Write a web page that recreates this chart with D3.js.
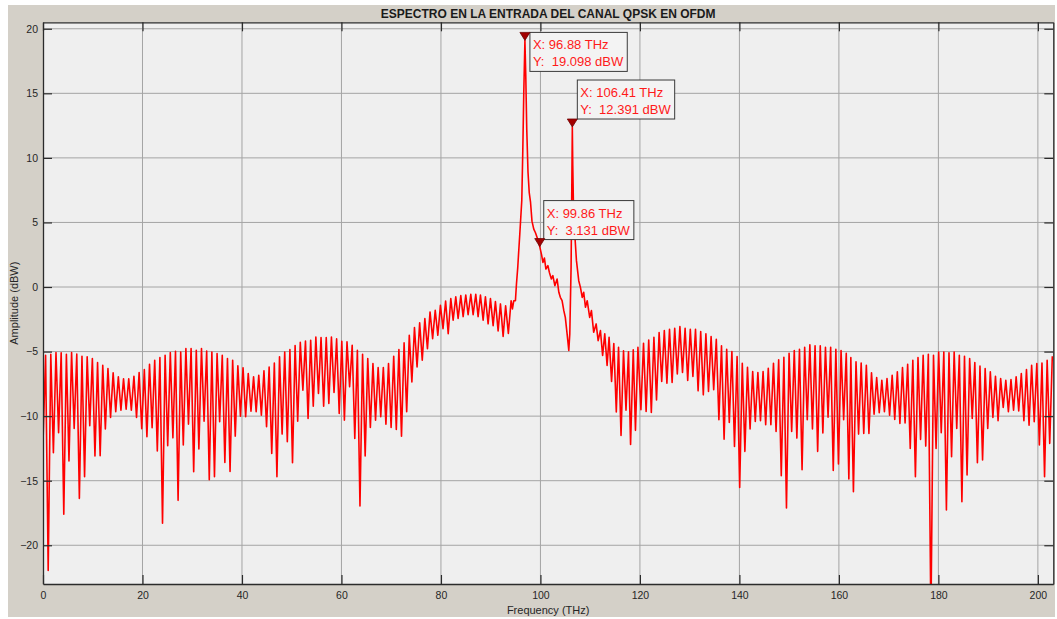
<!DOCTYPE html>
<html>
<head>
<meta charset="utf-8">
<script src="https://cdn.jsdelivr.net/npm/d3@7"></script>
<style>
  body { margin: 0; background: #fff; }
  svg text { font-family: "Liberation Sans", Arial, Helvetica, sans-serif; }
</style>
</head>
<body>
<div id="chart"></div>
<script>
// axis ticks
const xTicks = [0, 20, 40, 60, 80, 100, 120, 140, 160, 180, 200];
const yTicks = [-20, -15, -10, -5, 0, 5, 10, 15, 20];

// side lobes: alternating trough / peak levels (dBW),
// each run evenly spread between the frequencies given in lobeSpans (THz)
const lobeSpans = [[0, 41.26], [41.81, 81.98], [120.2, 162.0], [162.4, 202.9]];

const lobeA = [
  -12.1, -5.28, -21.96, -5.21, -12.84, -5.08, -11.29, -5.10, -17.6, -5.21,
  -13.48, -5.08, -10.95, -5.2, -16.37, -5.36, -14.69, -5.41, -10.75, -5.54,
  -13.09, -5.85, -13.07, -6.06, -11.0, -6.31, -10.1, -6.65, -9.66, -6.96,
  -9.54, -7.11, -9.46, -7.11, -9.54, -6.91, -10.1, -6.62, -10.98, -6.39,
  -11.6, -5.98, -10.9, -5.67, -12.7, -5.46, -18.3, -5.28, -12.29, -5.08,
  -11.68, -4.97, -16.52, -5.03, -12.24, -4.77, -10.62, -4.77, -14.3, -4.9,
  -12.55, -4.77, -10.39, -4.95, -14.92, -5.03, -14.69, -5.15, -10.44, -5.28,
  -13.58, -5.54, -14.28, -5.67, -11.55, -6.11, -10.0, -6.26, -10.05, -6.7
];

const lobeB = [
  -9.61, -6.96, -9.66, -6.83, -9.92, -6.49, -10.82, -6.19, -12.89, -5.88,
  -14.69, -5.41, -11.39, -5.03, -11.98, -4.85, -13.61, -4.54, -10.39, -4.28,
  -7.99, -4.18, -10.18, -4.12, -9.23, -3.87, -8.25, -3.92, -9.23, -3.92,
  -9.02, -3.87, -8.17, -4.02, -9.79, -4.2, -10.31, -4.25, -7.73, -4.51,
  -11.73, -4.9, -16.96, -5.21, -13.09, -5.54, -10.88, -5.93, -10.31, -6.24,
  -10.05, -6.24, -10.62, -5.93, -10.88, -5.36, -11.03, -4.85, -11.55, -4.33,
  -9.66, -3.74, -7.35, -3.14, -6.19, -2.78, -5.67, -2.45, -4.77, -1.93,
  -4.0, -1.8, -3.74, -1.42, -3.22, -1.08, -3.61, -0.9
];

const lobeD = [
  -9.51, -4.36, -9.64, -4.10, -9.72, -3.89, -8.74, -3.53, -7.32, -3.38,
  -7.45, -3.27, -7.40, -3.20, -6.73, -3.07, -6.62, -3.20, -7.24, -3.27,
  -6.93, -3.27, -8.04, -3.45, -8.35, -3.63, -8.09, -3.84, -7.96, -4.05,
  -10.28, -4.56, -11.78, -4.82, -10.49, -5.0, -12.35, -5.39, -15.52, -5.90,
  -12.73, -6.21, -11.0, -6.55, -10.41, -6.62, -10.36, -6.55, -10.67, -6.29,
  -10.67, -5.90, -11.19, -5.64, -14.61, -5.44, -17.11, -5.13, -11.19, -4.92,
  -11.70, -4.82, -14.15, -4.66, -10.28, -4.48, -11.0, -4.56, -12.73, -4.56,
  -11.31, -4.66, -10.08, -4.66, -14.21, -4.82, -13.70, -4.92, -10.28, -5.13,
  -14.87
];

const lobeE = [
  -5.46, -15.85, -5.8, -11.39, -5.88, -11.34, -6.06, -11.34, -6.65, -9.85,
  -7.01, -9.74, -7.22, -9.66, -7.09, -9.92, -6.83, -10.26, -6.57, -10.57,
  -6.24, -10.52, -5.98, -12.5, -5.67, -14.69, -5.46, -11.8, -5.28, -12.32,
  -5.21, -25.8, -5.28, -12.5, -5.03, -11.29, -5.03, -17.27, -5.1, -13.14,
  -5.03, -10.95, -5.28, -16.62, -5.36, -14.56, -5.54, -10.18, -5.85, -13.61,
  -6.13, -13.40, -6.31, -10.95, -6.57, -10.10, -6.91, -10.36, -7.09, -9.33,
  -7.22, -9.66, -7.16, -9.54, -6.96, -9.59, -6.70, -10.36, -6.39, -10.7,
  -6.06, -10.44, -5.93, -12.24, -5.88, -14.69, -5.67, -12.11, -5.36
];

// main lobe around the two carriers, [THz, dBW]
const centrePoints = [
  [82.45, -2.57], [82.98, -0.76], [83.45, -2.43], [83.99, -0.67], [84.46, -2.29],
  [84.99, -0.62], [85.46, -2.15], [86.0, -0.56], [86.47, -2.15], [87.0, -0.56],
  [87.47, -2.29], [87.94, -0.62], [88.48, -2.57], [88.94, -0.76], [89.48, -2.85],
  [89.95, -0.9], [90.49, -2.99], [90.95, -1.12], [91.49, -3.40], [91.96, -1.31],
  [92.5, -3.82], [93.0, -1.45], [93.55, -3.6], [94.1, -1.06], [94.37, -1.7],
  [94.64, -1.06], [94.97, -1.06], [95.18, 0.23], [95.44, 1.52], [95.64, 2.81],
  [95.85, 4.1], [96.05, 5.4], [96.25, 6.7], [96.45, 10.5], [96.65, 15.0],
  [96.88, 19.098], [97.05, 16.4], [97.25, 12.2], [97.5, 8.9], [97.75, 7.3],
  [98.0, 6.6], [98.3, 5.1], [98.66, 4.48], [99.0, 4.2], [99.33, 3.84],
  [99.67, 3.45], [99.86, 3.131], [100.2, 2.55], [100.5, 1.9], [100.8, 2.24],
  [101.1, 1.39], [101.5, 1.65], [101.8, 1.13], [102.2, 0.62], [102.5, 0.88],
  [102.9, 0.1], [103.35, 0.62], [103.7, -0.41], [104.0, -0.8], [104.35, -1.06],
  [104.7, -1.83], [105.0, -2.35], [105.36, -3.63], [105.7, -4.92], [105.9, -3.63],
  [106.16, 1.52], [106.3, 7.5], [106.41, 12.391], [106.5, 9.4], [106.65, 6.0],
  [106.9, 4.1], [107.24, 2.04], [107.7, 0.49], [108.04, -0.03], [108.4, -0.8],
  [108.7, -0.41], [109.05, -1.57], [109.4, -1.06], [109.9, -2.35], [110.25, -1.83],
  [110.7, -3.5], [111.2, -2.86], [111.6, -4.15], [112.06, -3.38], [112.5, -5.3],
  [112.93, -3.63], [113.4, -6.08], [113.8, -3.89], [114.3, -7.31], [114.75, -4.38],
  [115.25, -9.68], [115.7, -4.66], [116.2, -11.49], [116.7, -4.94], [117.2, -9.54],
  [117.7, -5.02], [118.12, -12.2], [118.66, -4.87], [119.1, -11.1], [119.6, -4.66]
];

// data tips
const tipTHz = [96.88, 106.41, 99.86];
const tipDbw = [19.098, 12.391, 3.131];
const tipTextX = ['96.88', '106.41', '99.86'];
const tipTextY = ['19.098', '12.391', '3.131'];

function lobePoints(values, span) {
  const step = (span[1] - span[0]) / (values.length - 1);
  return values.map((v, i) => [span[0] + i * step, v]);
}

const spectrum = [
  ...lobePoints(lobeA, lobeSpans[0]),
  ...lobePoints(lobeB, lobeSpans[1]),
  ...centrePoints,
  ...lobePoints(lobeD, lobeSpans[2]),
  ...lobePoints(lobeE, lobeSpans[3])
];

const width = 1057;
const height = 619;
const plot = { left: 43, top: 22.3, right: 1053.3, bottom: 584 };

const svg = d3.select('#chart')
  .append('svg')
  .attr('width', width)
  .attr('height', height);

// figure background
svg.append('rect')
  .attr('x', 8).attr('y', 5)
  .attr('width', 1047).attr('height', 612)
  .attr('fill', '#d4d0c8');

const x = d3.scaleLinear()
  .domain([0, 203.1])
  .range([plot.left, plot.right]);

const y = d3.scaleLinear()
  .domain([-23, 20.5])
  .range([plot.bottom, plot.top]);

svg.append('rect')
  .attr('x', plot.left).attr('y', plot.top)
  .attr('width', plot.right - plot.left)
  .attr('height', plot.bottom - plot.top)
  .attr('fill', '#efefef');

// grid
svg.selectAll('.vgrid')
  .data(xTicks.filter(d => d > 0))
  .enter()
  .append('line')
  .attr('class', 'vgrid')
  .attr('x1', d => x(d)).attr('x2', d => x(d))
  .attr('y1', plot.top).attr('y2', plot.bottom)
  .style('stroke', '#a4a4a4')
  .style('stroke-width', 1);

svg.selectAll('.hgrid')
  .data(yTicks)
  .enter()
  .append('line')
  .attr('class', 'hgrid')
  .attr('x1', plot.left).attr('x2', plot.right)
  .attr('y1', d => y(d)).attr('y2', d => y(d))
  .style('stroke', '#a4a4a4')
  .style('stroke-width', 1);

svg.append('clipPath')
  .attr('id', 'plotClip')
  .append('rect')
  .attr('x', plot.left).attr('y', plot.top)
  .attr('width', plot.right - plot.left)
  .attr('height', plot.bottom - plot.top);

const line = d3.line()
  .x(d => x(d[0]))
  .y(d => y(d[1]));

svg.append('path')
  .datum(spectrum)
  .attr('clip-path', 'url(#plotClip)')
  .attr('fill', 'none')
  .attr('stroke', '#ff0000')
  .attr('stroke-width', 1.6)
  .attr('stroke-linejoin', 'round')
  .attr('d', line);

// axes, ticks pointing inward on all four sides
const styleAxis = (g) => {
  g.select('.domain').attr('stroke', '#2b2b2b').attr('stroke-width', 1.3);
  g.selectAll('.tick line').attr('stroke', '#2b2b2b').attr('stroke-width', 1.2);
  g.selectAll('text')
    .style('fill', '#262626')
    .style('font-size', '10.5px');
};

svg.append('g')
  .attr('transform', `translate(0,${plot.bottom})`)
  .call(d3.axisBottom(x).tickValues(xTicks).tickSize(-9).tickSizeOuter(0).tickPadding(8))
  .call(styleAxis);

svg.append('g')
  .attr('transform', `translate(0,${plot.top})`)
  .call(d3.axisTop(x).tickValues(xTicks).tickSize(-9).tickSizeOuter(0).tickFormat(''))
  .call(styleAxis);

svg.append('g')
  .attr('transform', `translate(${plot.left},0)`)
  .call(d3.axisLeft(y).tickValues(yTicks).tickSize(-9).tickSizeOuter(0).tickPadding(5))
  .call(styleAxis);

svg.append('g')
  .attr('transform', `translate(${plot.right},0)`)
  .call(d3.axisRight(y).tickValues(yTicks).tickSize(-9).tickSizeOuter(0).tickFormat(''))
  .call(styleAxis);

// titles
svg.append('text')
  .attr('x', (plot.left + plot.right) / 2)
  .attr('y', 17.5)
  .attr('text-anchor', 'middle')
  .style('font-size', '12px')
  .style('font-weight', 'bold')
  .style('fill', '#1a1a1a')
  .text('ESPECTRO EN LA ENTRADA DEL CANAL QPSK EN OFDM');

svg.append('text')
  .attr('x', (plot.left + plot.right) / 2)
  .attr('y', 614)
  .attr('text-anchor', 'middle')
  .style('font-size', '11px')
  .style('fill', '#262626')
  .text('Frequency (THz)');

svg.append('text')
  .attr('transform', 'rotate(-90)')
  .attr('x', -(plot.top + plot.bottom) / 2)
  .attr('y', 18)
  .attr('text-anchor', 'middle')
  .style('font-size', '11px')
  .style('fill', '#262626')
  .text('Amplitude (dBW)');

// data tips: marker + boxed readout
const tipOffsets = [[5, -8], [5, -47], [4, -46]];

tipTHz.forEach((f, i) => {
  const px = x(f);
  const py = y(tipDbw[i]);

  const box = svg.append('g')
    .attr('transform', `translate(${px + tipOffsets[i][0]},${py + tipOffsets[i][1]})`);

  const rect = box.append('rect')
    .attr('fill', '#f3f3f3')
    .attr('stroke', '#3a3a3a')
    .attr('stroke-width', 1);

  const t1 = box.append('text')
    .attr('x', 3).attr('y', 17)
    .style('white-space', 'pre')
    .style('font-size', '13px')
    .style('fill', '#ff1a1a')
    .text(`X: ${tipTextX[i]} THz`);

  const t2 = box.append('text')
    .attr('x', 3).attr('y', 34)
    .style('white-space', 'pre')
    .style('font-size', '13px')
    .style('fill', '#ff1a1a')
    .text(`Y:  ${tipTextY[i]} dBW`);

  const w = Math.max(t1.node().getComputedTextLength(), t2.node().getComputedTextLength()) + 7;
  rect.attr('width', w).attr('height', 39);

  svg.append('path')
    .attr('d', `M${px - 5},${py - 8} L${px + 5},${py - 8} L${px},${py} Z`)
    .attr('fill', '#a30000')
    .attr('stroke', '#6e0000')
    .attr('stroke-width', 0.8);
});
</script>
</body>
</html>
